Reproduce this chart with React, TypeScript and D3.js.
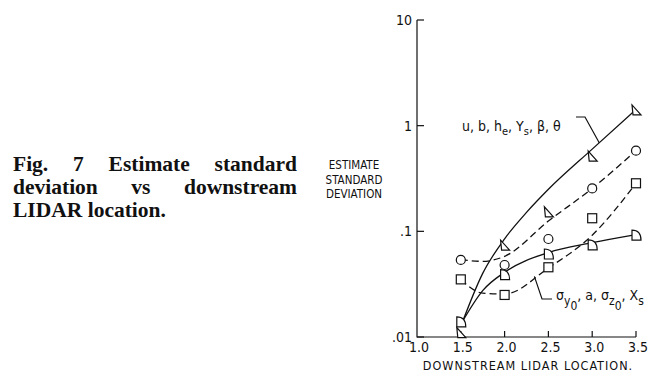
import * as d3 from "d3";
import React, { useEffect, useRef } from "react";

// marker values
const xs = [1.5, 2.0, 2.5, 3.0, 3.5];
const triangles = [0.011, 0.074, 0.153, 0.516, 1.41];
const circles = [0.0536, 0.048, 0.0846, 0.255, 0.58];
const squares = [0.0351, 0.025, 0.0457, 0.133, 0.285];
const halfCircles = [0.0139, 0.039, 0.061, 0.0743, 0.092];

// hand-drawn fitted curves (x, value)
const fitSolidA = [[1.5, 0.0126], [1.75, 0.04], [2.0, 0.085], [2.25, 0.151], [2.5, 0.25], [3.0, 0.6], [3.5, 1.42]];
const fitSolidB = [[1.5, 0.0132], [1.75, 0.0275], [2.0, 0.041], [2.5, 0.063], [3.0, 0.078], [3.5, 0.093]];
const fitDashC = [[1.5, 0.054], [1.75, 0.052], [2.0, 0.058], [2.5, 0.125], [3.0, 0.255], [3.5, 0.58]];
const fitDashD = [[1.5, 0.035], [1.75, 0.026], [2.0, 0.0255], [2.5, 0.045], [3.0, 0.092], [3.5, 0.285]];

const xTicks = [1.0, 1.5, 2.0, 2.5, 3.0, 3.5];
const yTicks = [0.01, 0.1, 1, 10];
const yTickLabels = [".01", ".1", "1", "10"];

const captionLines = [
  ["Fig.", "7", "Estimate", "standard"],
  ["deviation", "vs", "downstream"],
];

const sans = "'DejaVu Sans Condensed', 'DejaVu Sans', sans-serif";

function App() {
  const ref = useRef<SVGSVGElement>(null);
  const width = 663;
  const height = 377;

  useEffect(() => {
    const svg = d3.select(ref.current);
    svg.selectAll("*").remove();

    const x = d3.scaleLinear().domain([1.0, 3.5]).range([417, 636]);
    const y = d3.scaleLog().domain([0.01, 10]).range([337, 20]);

    svg.append("rect").attr("width", width).attr("height", height).attr("fill", "#fff");

    // caption, justified by hand
    const cap = svg.append("g")
      .attr("font-family", "'Liberation Serif', 'Times New Roman', serif")
      .attr("font-weight", "bold")
      .attr("font-size", 21.5)
      .attr("fill", "#111");
    const left = 13, right = 297;
    const baselines = [171, 194, 217];
    captionLines.forEach((words, i) => {
      const nodes = words.map((w) => cap.append("text").attr("y", baselines[i]).text(w));
      const widths = nodes.map((n) => (n.node() as SVGTextElement).getComputedTextLength());
      const gap = (right - left - d3.sum(widths)) / (words.length - 1);
      let cx = left;
      nodes.forEach((n, j) => {
        n.attr("x", cx);
        cx += widths[j] + gap;
      });
    });
    cap.append("text").attr("x", left).attr("y", baselines[2]).text("LIDAR location.");

    // y axis title
    const yt = svg.append("g")
      .attr("font-family", sans)
      .attr("font-size", 11.5)
      .attr("text-anchor", "middle")
      .attr("fill", "#111");
    ["ESTIMATE", "STANDARD", "DEVIATION"].forEach((t, i) => {
      yt.append("text").attr("x", 354).attr("y", 169 + i * 14.5).text(t);
    });

    const axis = svg.append("g").attr("stroke", "#111").attr("stroke-width", 1.2).attr("fill", "none");
    axis.append("path").attr("d", `M${x(1)},${y(10)}V${y(0.01)}H${x(3.5)}`);
    yTicks.forEach((t) => {
      axis.append("line").attr("x1", x(1)).attr("x2", x(1) + 7).attr("y1", y(t)).attr("y2", y(t));
    });
    xTicks.slice(1).forEach((t) => {
      axis.append("line").attr("x1", x(t)).attr("x2", x(t)).attr("y1", y(0.01)).attr("y2", y(0.01) - 6);
    });

    const labels = svg.append("g").attr("font-family", sans).attr("font-size", 14).attr("fill", "#111");
    yTicks.forEach((t, i) => {
      labels.append("text")
        .attr("x", x(1) - 5)
        .attr("y", y(t))
        .attr("dy", "0.35em")
        .attr("text-anchor", "end")
        .text(yTickLabels[i]);
    });
    xTicks.forEach((t) => {
      labels.append("text")
        .attr("x", x(t) + 2)
        .attr("y", 352)
        .attr("text-anchor", "middle")
        .text(t.toFixed(1));
    });
    labels.append("text")
      .attr("x", 528)
      .attr("y", 370)
      .attr("text-anchor", "middle")
      .attr("font-size", 12.5)
      .attr("letter-spacing", 1)
      .text("DOWNSTREAM LIDAR LOCATION.");

    // curves
    const line = d3.line<number[]>()
      .x((d) => x(d[0]))
      .y((d) => y(d[1]))
      .curve(d3.curveMonotoneX);
    const curves = svg.append("g").attr("fill", "none").attr("stroke", "#111").attr("stroke-width", 1.3);
    curves.append("path").attr("d", line(fitSolidA));
    curves.append("path").attr("d", line(fitSolidB));
    curves.append("path").attr("d", line(fitDashC)).attr("stroke-dasharray", "7,4");
    curves.append("path").attr("d", line(fitDashD)).attr("stroke-dasharray", "7,4");

    // markers
    const marks = svg.append("g").attr("fill", "#fff").attr("stroke", "#111").attr("stroke-width", 1.2);
    xs.forEach((xv, i) => {
      marks.append("circle").attr("cx", x(xv)).attr("cy", y(circles[i])).attr("r", 4.5);
      marks.append("rect")
        .attr("x", x(xv) - 4.5).attr("y", y(squares[i]) - 4.5)
        .attr("width", 9).attr("height", 9);
      marks.append("path")
        .attr("transform", `translate(${x(xv)},${y(triangles[i])})`)
        .attr("d", "M-4,-5L-3,5H5Z");
      marks.append("path")
        .attr("transform", `translate(${x(xv)},${y(halfCircles[i])})`)
        .attr("d", "M-4,-5Q5,-5 5,5H-4Z");
    });

    // leader labels
    const ann = svg.append("g").attr("font-family", sans).attr("font-size", 14).attr("fill", "#111");
    const t1 = ann.append("text").attr("x", 462).attr("y", 131);
    t1.append("tspan").text("u, b, h");
    t1.append("tspan").attr("dy", 4).attr("font-size", 11).text("e");
    t1.append("tspan").attr("dy", -4).text(", Y");
    t1.append("tspan").attr("dy", 4).attr("font-size", 11).text("s");
    t1.append("tspan").attr("dy", -4).text(", β, θ");

    const t2 = ann.append("text").attr("x", 556).attr("y", 300);
    t2.append("tspan").text("σ");
    t2.append("tspan").attr("dy", 5).attr("font-size", 12).text("y");
    t2.append("tspan").attr("dy", 5).attr("font-size", 12).text("0");
    t2.append("tspan").attr("dy", -10).text(", a, σ");
    t2.append("tspan").attr("dy", 5).attr("font-size", 12).text("z");
    t2.append("tspan").attr("dy", 5).attr("font-size", 12).text("0");
    t2.append("tspan").attr("dy", -10).text(", X");
    t2.append("tspan").attr("dy", 5).attr("font-size", 12).text("s");

    // leader end points sit on the fitted curves
    const onLog = (pts: number[][], xv: number) => {
      const i = d3.bisector((d: number[]) => d[0]).right(pts, xv) - 1;
      const [x0, v0] = pts[i];
      const [x1, v1] = pts[i + 1];
      const t = (xv - x0) / (x1 - x0);
      return Math.pow(10, Math.log10(v0) + t * (Math.log10(v1) - Math.log10(v0)));
    };
    const leaders = svg.append("g").attr("fill", "none").attr("stroke", "#111").attr("stroke-width", 1.2);
    leaders.append("path").attr("d", `M576,117H585L${x(3.08)},${y(onLog(fitSolidA, 3.08))}`);
    leaders.append("path").attr("d", `M${x(2.34)},${y(onLog(fitDashD, 2.34))}L542,299H552`);
  }, []);

  return (
    <svg
      ref={ref}
      width={width}
      height={height}
      style={{ display: "block", position: "absolute", left: 0, top: 0 }}
    />
  );
}

export default App;
